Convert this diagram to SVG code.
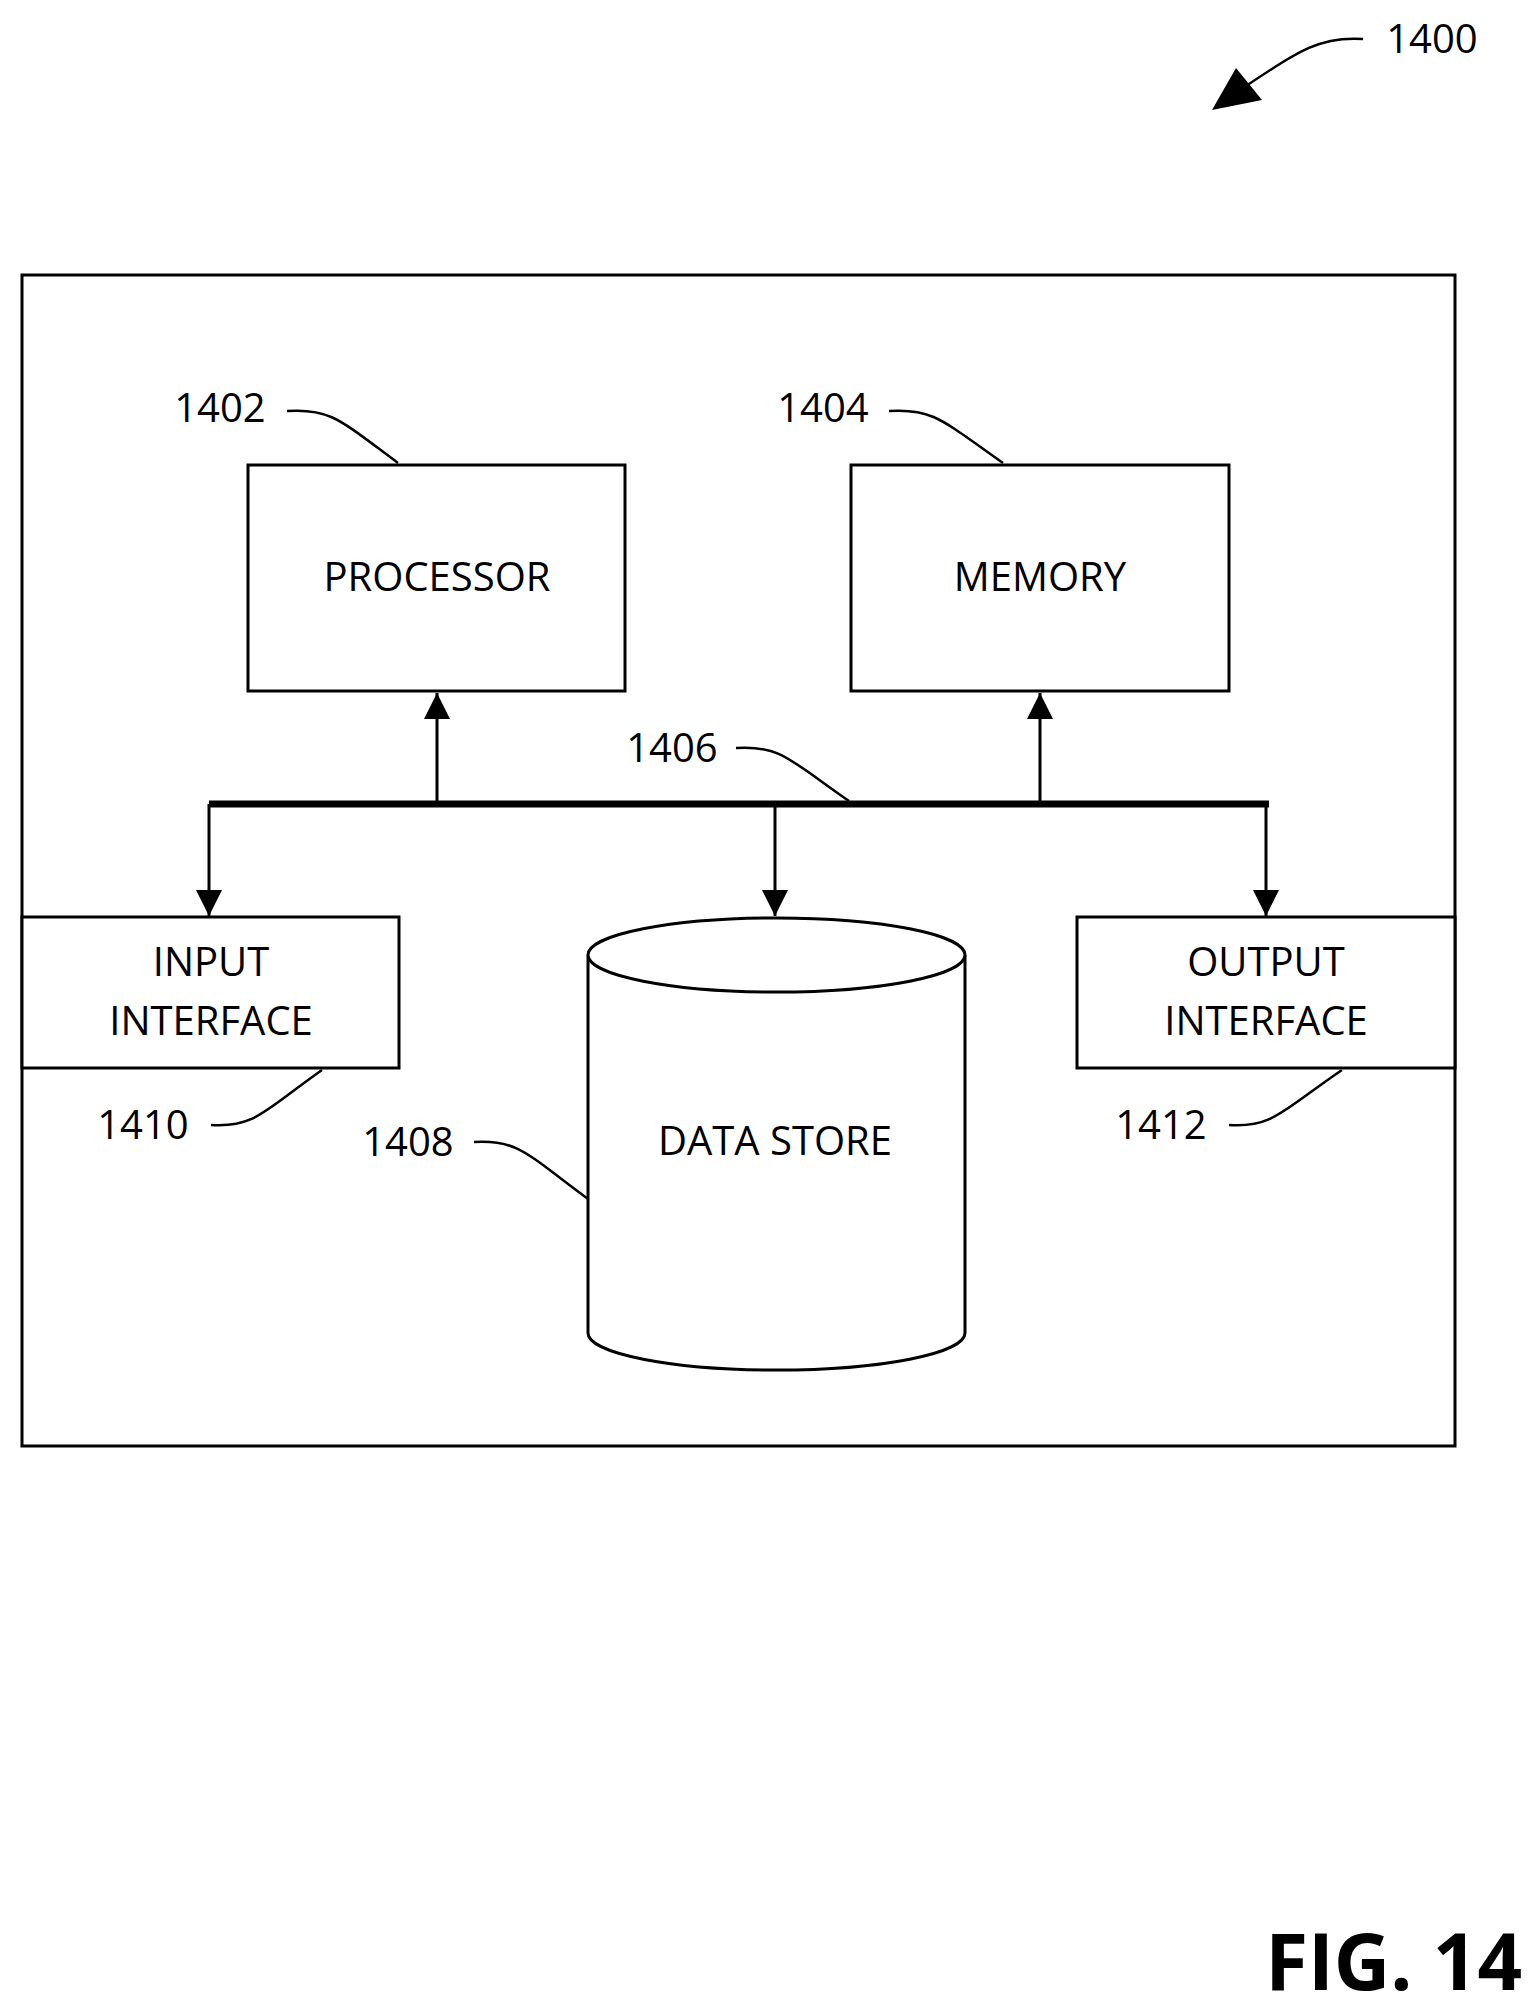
<svg xmlns="http://www.w3.org/2000/svg" width="1534" height="2014" viewBox="0 0 1534 2014">
<style>
.b{fill:#fff;stroke:#000;stroke-width:3}
.l{fill:none;stroke:#000;stroke-width:2.5}
text{font-family:"Open Sans","Liberation Sans",sans-serif;font-size:40px;fill:#000;text-anchor:middle}
</style>
<defs>
<marker id="ah" viewBox="0 0 10 10" refX="10" refY="5" markerWidth="36" markerHeight="26" markerUnits="userSpaceOnUse" orient="auto"><path d="M0,0L10,5L0,10z"/></marker>
</defs>
<rect x="22" y="275" width="1433" height="1171" class="b"/>
<g id="processor"><rect x="248" y="465" width="377" height="226" class="b"/><text x="437" y="591">PROCESSOR</text></g>
<g id="memory"><rect x="851" y="465" width="378" height="226" class="b"/><text x="1040" y="591">MEMORY</text></g>
<g id="input"><rect x="22" y="917" width="377" height="151" class="b"/><text x="211" y="976">INPUT</text><text x="211" y="1035">INTERFACE</text></g>
<g id="output"><rect x="1077" y="917" width="378" height="151" class="b"/><text x="1266" y="976">OUTPUT</text><text x="1266" y="1035">INTERFACE</text></g>
<g id="datastore"><path d="M588,955 V1333 A188.5,37 0 0 0 965,1333 V955" class="b"/><ellipse cx="776.5" cy="955" rx="188.5" ry="37" class="b"/><text x="775" y="1155">DATA STORE</text></g>
<g id="connectors">
<line x1="209" y1="804" x2="1269" y2="804" stroke="#000" stroke-width="7"/>
<line x1="437" y1="804" x2="437" y2="693" stroke="#000" stroke-width="3" marker-end="url(#ah)"/>
<line x1="1040" y1="804" x2="1040" y2="693" stroke="#000" stroke-width="3" marker-end="url(#ah)"/>
<line x1="209" y1="804" x2="209" y2="916" stroke="#000" stroke-width="3" marker-end="url(#ah)"/>
<line x1="775" y1="804" x2="775" y2="916" stroke="#000" stroke-width="3" marker-end="url(#ah)"/>
<line x1="1266" y1="804" x2="1266" y2="916" stroke="#000" stroke-width="3" marker-end="url(#ah)"/>
<path d="M287,411 C330,408 340,420 398,463" class="l"/>
<path d="M889,411 C932,408 942,420 1003,463" class="l"/>
<path d="M736,748 C780,745 790,760 849,801" class="l"/>
<path d="M211,1125 C255,1128 265,1110 322,1070" class="l"/>
<path d="M1229,1125 C1273,1128 1283,1110 1342,1070" class="l"/>
<path d="M474,1142 C518,1139 528,1155 588,1199" class="l"/>
<path d="M1363,39 C1320,36 1300,50 1240,90" class="l"/>
<path d="M1212,110 L1236,68 L1262,100 Z" fill="#000"/>
</g>
<g id="labels">
<text x="220" y="422">1402</text>
<text x="823" y="422">1404</text>
<text x="672" y="762">1406</text>
<text x="143" y="1139">1410</text>
<text x="1161" y="1139">1412</text>
<text x="408" y="1156">1408</text>
<text x="1432" y="53">1400</text>
<text x="1522" y="1990" style="text-anchor:end;font-weight:bold;font-size:78px">FIG. 14</text>
</g>
</svg>
